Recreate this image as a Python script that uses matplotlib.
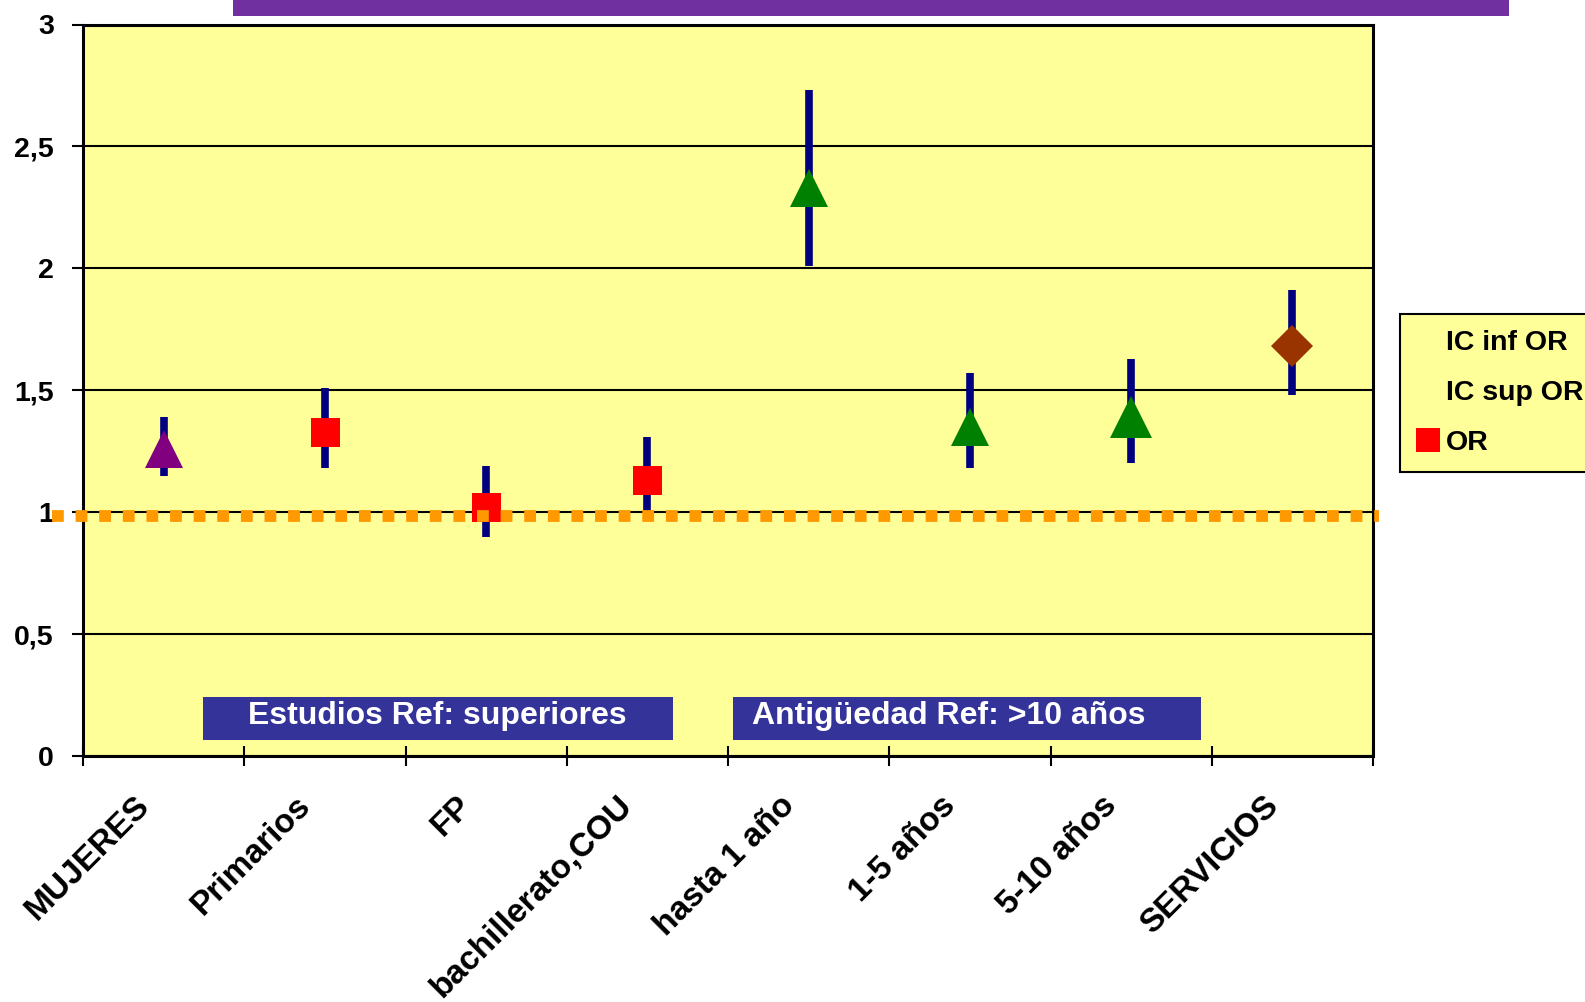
import matplotlib
matplotlib.use('Agg')
import matplotlib.pyplot as plt
from matplotlib.lines import Line2D
from matplotlib.patches import Rectangle
import matplotlib.transforms as mtransforms
import numpy as np

# ---------------- data ----------------
categories = ['MUJERES', 'Primarios', 'FP', 'bachillerato,COU',
              'hasta 1 año', '1-5 años', '5-10 años', 'SERVICIOS']
or_values = [1.26, 1.33, 1.02, 1.13, 2.33, 1.35, 1.39, 1.68]
ic_inf = [1.15, 1.18, 0.90, 0.99, 2.01, 1.18, 1.20, 1.48]
ic_sup = [1.39, 1.51, 1.19, 1.31, 2.73, 1.57, 1.63, 1.91]
ref_value = 1.0
y_ticks = [0, 0.5, 1, 1.5, 2, 2.5, 3]
y_tick_labels = ['0', '0,5', '1', '1,5', '2', '2,5', '3']
group_labels = ['Estudios Ref: superiores', 'Antigüedad Ref: >10 años']
legend_labels = ['IC inf OR', 'IC sup OR', 'OR']

# ---------------- styles ----------------
marker_shapes = ['^', 's', 's', 's', '^', '^', '^', 'D']
marker_colors = ['#800080', '#FF0000', '#FF0000', '#FF0000',
                 '#008000', '#008000', '#008000', '#993300']
marker_px = [38, 29, 29, 29, 38, 38, 43, 30.4]
PX = 0.72  # points per pixel at dpi 100

plt.rcParams['font.family'] = ['Liberation Sans', 'DejaVu Sans']
plt.rcParams['font.weight'] = 'bold'

W, H = 1585, 1002
fig = plt.figure(figsize=(W / 100, H / 100), dpi=100)
fig.patch.set_facecolor('white')

# top purple band
fig.patches.append(Rectangle((233 / W, 986 / H), (1509 - 233) / W, 20 / H,
                             transform=fig.transFigure, facecolor='#7030A0',
                             edgecolor='none', zorder=0))

ax = fig.add_axes([83 / W, 1 - 756 / H, (1373 - 83) / W, (756 - 24.5) / H])
ax.set_facecolor('#FFFF99')

x = np.arange(len(categories))
ax.set_xlim(-0.5, len(categories) - 0.5)
ax.set_ylim(0, 3)

ax.set_yticks(y_ticks)
ax.set_yticklabels(y_tick_labels)
ax.yaxis.grid(True, color='black', linewidth=1.5)
ax.set_axisbelow(True)
for sp in ax.spines.values():
    sp.set_linewidth(2.2)
    sp.set_color('black')

ax.tick_params(axis='y', direction='out', length=8, width=1.5, pad=13,
               labelsize=20.5)
for lab in ax.get_yticklabels():
    lab.set_fontweight('bold')

# category boundaries as ticks crossing the axis; category names as labels
ax.set_xticks(np.arange(-0.5, len(categories)))
ax.set_xticklabels([])
ax.tick_params(axis='x', direction='inout', length=14.4, width=1.5)
base = mtransforms.blended_transform_factory(ax.transData, ax.transAxes)
lab_trans = mtransforms.offset_copy(base, fig=fig, x=-19, y=-45, units='dots')
for xi, name in zip(x, categories):
    ax.text(xi, 0, name, transform=lab_trans, rotation=45,
            rotation_mode='anchor', ha='right', va='center',
            fontsize=24, fontweight='bold', clip_on=False)

# high-low lines (confidence intervals)
ax.vlines(x, ic_inf, ic_sup, colors='#000080', linewidth=5.5, zorder=3)
l_inf, = ax.plot(x, ic_inf, linestyle='none', marker='none', label=legend_labels[0])
l_sup, = ax.plot(x, ic_sup, linestyle='none', marker='none', label=legend_labels[1])

# OR markers
for xi, v, m, c, s in zip(x, or_values, marker_shapes, marker_colors, marker_px):
    ax.plot([xi], [v], linestyle='none', marker=m, color=c,
            markersize=s * PX, markeredgewidth=0, zorder=4)

# reference line at OR = 1
off = mtransforms.offset_copy(ax.transData, fig=fig, x=0, y=-4, units='dots')
ax.plot([-0.69, len(categories) - 0.46], [ref_value, ref_value], color='#FF9900',
        linewidth=8.5, dashes=(1, 1), dash_capstyle='butt', clip_on=False,
        zorder=5, transform=off)

# group label boxes
boxes = [(0.244, 3.159, 1.70), (3.531, 6.433, 4.87)]
for (x0, x1, xt), txt in zip(boxes, group_labels):
    ax.add_patch(Rectangle((x0, 0.066), x1 - x0, 0.176, facecolor='#333399',
                           edgecolor='none', zorder=3))
    ax.text(xt, 0.130, txt, color='white', fontsize=23, fontweight='bold',
            ha='center', va='baseline', zorder=4)

# legend
or_handle = Line2D([], [], linestyle='none', marker='s', color='#FF0000',
                   markersize=17, markeredgewidth=0)
leg = fig.legend([l_inf, l_sup, or_handle], legend_labels, loc='upper left',
                 bbox_to_anchor=(1400 / W, 1 - 314 / H),
                 bbox_transform=fig.transFigure, borderaxespad=0,
                 frameon=True, fancybox=False, shadow=False, framealpha=1,
                 facecolor='#FFFF99', edgecolor='black',
                 prop={'weight': 'bold', 'size': 20.5},
                 handlelength=0.85, handletextpad=0.2, borderpad=0.55,
                 labelspacing=0.85)
leg.get_frame().set_linewidth(1.5)

fig.savefig('out.png', dpi=100)
